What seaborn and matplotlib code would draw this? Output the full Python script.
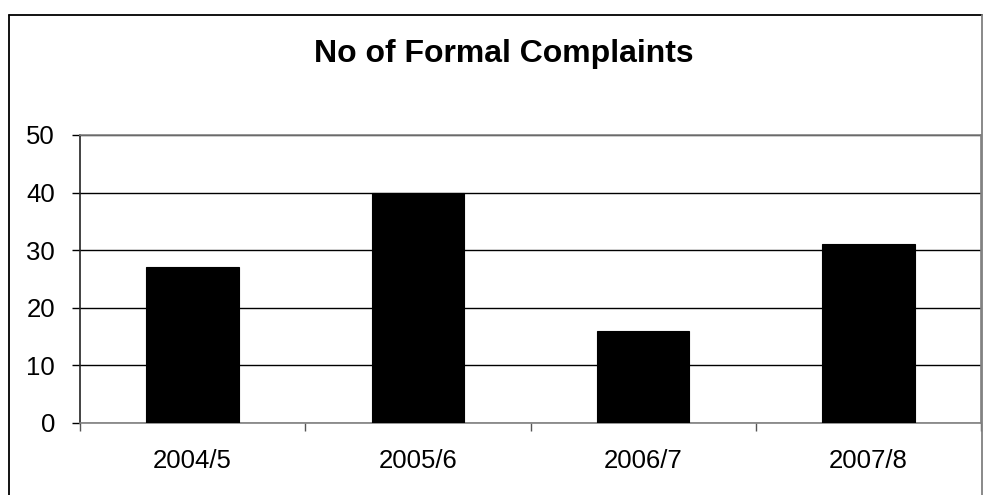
import matplotlib
matplotlib.use("Agg")
import matplotlib.pyplot as plt
import seaborn as sns
import pandas as pd
from matplotlib.lines import Line2D

# data
years = ["2004/5", "2005/6", "2006/7", "2007/8"]
complaints = [27, 40, 16, 31]
y_ticks = [0, 10, 20, 30, 40, 50]

df = pd.DataFrame({"year": years, "complaints": complaints})

sns.set_theme(style="white")
plt.rcParams["font.family"] = ["Liberation Sans", "DejaVu Sans"]
plt.rcParams["text.color"] = "black"
plt.rcParams["xtick.color"] = "black"
plt.rcParams["ytick.color"] = "black"
plt.rcParams["xtick.labelcolor"] = "black"
plt.rcParams["ytick.labelcolor"] = "black"

fig = plt.figure(figsize=(9.84, 4.95), dpi=100)
ax = fig.add_axes([80 / 984, 1 - 423 / 495, 901 / 984, 288 / 495])

sns.barplot(data=df, x="year", y="complaints", color="black", saturation=1,
            width=0.41, edgecolor="black", linewidth=0.8, ax=ax, zorder=3)

ax.set_ylim(0, 50)
ax.set_xlim(-0.5, len(years) - 0.5)
ax.set_yticks(y_ticks)
ax.set_yticklabels([str(v) for v in y_ticks], fontsize=18.5)
ax.yaxis.grid(True, color="black", linewidth=1.0, zorder=0)
ax.set_axisbelow(True)

# category boundaries as major ticks, labels on minor ticks at centres
ax.set_xticks([i - 0.5 for i in range(len(years) + 1)])
ax.set_xticklabels([])
ax.set_xticks(range(len(years)), minor=True)
ax.set_xticklabels(years, minor=True, fontsize=18.5)
ax.tick_params(axis="x", which="major", direction="out", length=6,
               width=1, color="#555555", bottom=True)
ax.tick_params(axis="x", which="minor", length=0, pad=19)
ax.tick_params(axis="y", direction="out", length=6, width=1,
               color="black", left=True, pad=12)

ax.set_xlabel("")
ax.set_ylabel("")

for side in ["top", "right", "bottom"]:
    ax.spines[side].set_color("#808080")
    ax.spines[side].set_linewidth(1.2)
ax.spines["left"].set_color("#222222")
ax.spines["left"].set_linewidth(1.2)

fig.text(504 / 984, 1 - 54 / 495, "No of Formal Complaints",
         ha="center", va="center", fontsize=23, fontweight="bold",
         color="black")

# outer chart border (left and top visible, right shares plot edge)
x0, y0 = 8.5 / 984, 1 - 14.5 / 495
fig.add_artist(Line2D([x0, x0], [-0.05, y0], transform=fig.transFigure,
                      color="black", linewidth=1.3))
fig.add_artist(Line2D([x0, 982 / 984], [y0, y0], transform=fig.transFigure,
                      color="black", linewidth=1.3))
fig.add_artist(Line2D([982 / 984, 982 / 984], [-0.05, y0], transform=fig.transFigure,
                      color="#808080", linewidth=1.3))

fig.savefig("out.png", dpi=100, facecolor="white")
plt.close(fig)
